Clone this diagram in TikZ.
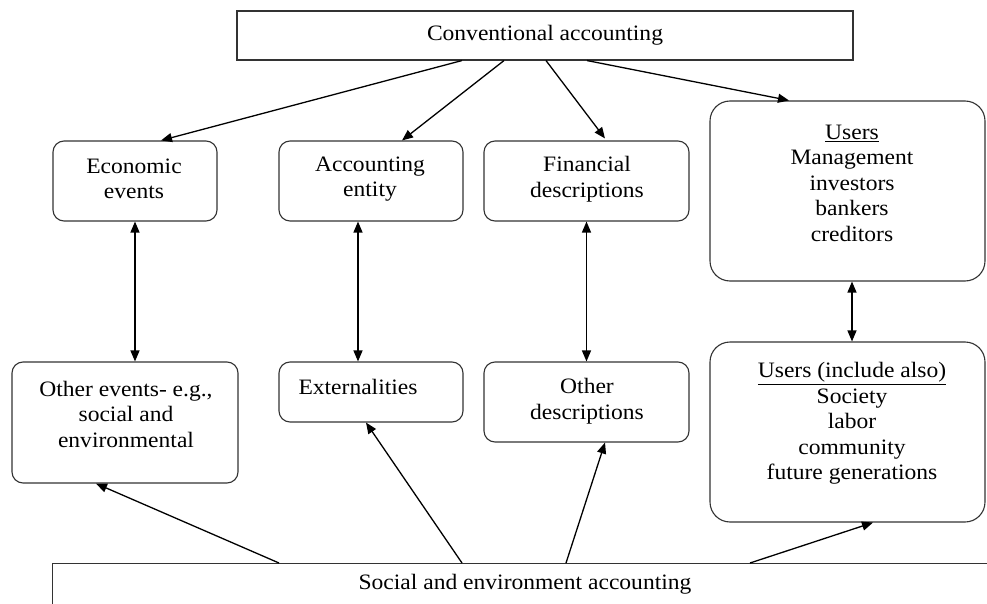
\documentclass[tikz,border=0pt]{standalone}
\usepackage{fontspec}
\setmainfont{Liberation Serif}[FakeStretch=1.07]
\usetikzlibrary{arrows.meta,calc}
\begin{document}
\begin{tikzpicture}[x=1pt,y=-1pt,
  boxline/.style={draw=black!80,line width=1.1pt},
  sqbox/.style={boxline,rectangle,inner sep=0pt},
  rbox/.style={boxline,rectangle,rounded corners=11pt,inner sep=0pt},
  ubox/.style={boxline,rectangle,rounded corners=20pt,inner sep=0pt},
  txt/.style={align=center,inner sep=0pt,font=\fontsize{22}{25.5}\selectfont},
  conn/.style={line width=1.3pt,-{Triangle[length=11pt,width=9pt]}},
  dconn/.style={line width=1.3pt,{Triangle[length=11pt,width=9pt]}-{Triangle[length=11pt,width=9pt]}}]
\useasboundingbox (0,0) rectangle (987,604);
\clip (0,0) rectangle (987,604);
\fill[white] (0,0) rectangle (987,604);
% boxes
\node[sqbox,minimum width=616pt,minimum height=49pt,txt] (top) at (545,35.5) {Conventional accounting};
\node[rbox,minimum width=164pt,minimum height=80pt] (eco) at (135,181) {};
\node[rbox,minimum width=184pt,minimum height=80pt] (ent) at (371,181) {};
\node[rbox,minimum width=205pt,minimum height=80pt] (fin) at (586.5,181) {};
\node[ubox,minimum width=275pt,minimum height=180pt] (users) at (847.5,191) {};
\node[rbox,minimum width=226pt,minimum height=121pt] (oth) at (125,422.5) {};
\node[rbox,minimum width=184pt,minimum height=60pt] (ext) at (371,392) {};
\node[rbox,minimum width=205pt,minimum height=80pt] (odesc) at (586.5,402) {};
\node[ubox,minimum width=275pt,minimum height=180pt] (users2) at (847.5,432) {};
\node[sqbox,anchor=north west,minimum width=960pt,minimum height=80pt] (soc) at (52,563) {};
% texts
\node[txt] (ecot) at (134,179) {Economic\\events};
\node[txt] (entt) at (370,179) {Accounting\\entity};
\node[txt] (fint) at (587,179) {Financial\\descriptions};
\node[txt] (userst) at (852,183) {\underline{Users}\\Management\\investors\\bankers\\creditors};
\node[txt] (otht) at (126,414) {Other events- e.g.,\\social and\\environmental};
\node[txt] (extt) at (358,387) {Externalities};
\node[txt] (odesct) at (587,401) {Other\\descriptions};
\node[txt] (users2t) at (852,423.5) {\underline{Users (include also)}\\Society\\labor\\community\\future generations};
\node[txt] (soct) at (525,584) {Social and environment accounting};
% connectors from top
\draw[conn] ($(top.south)+(-83,0)$) -- ($(eco.north)+(26,0)$);
\draw[conn] ($(top.south)+(-41,0)$) -- ($(ent.north)+(31,0)$);
\draw[conn] ($(top.south)+(1,0)$) -- ($(fin.north)+(18.5,-2)$);
\draw[conn] ($(top.south)+(42,0)$) -- ($(users.north)+(-58.5,0)$);
% vertical double arrows
\draw[dconn] (eco.south) -- (eco.south |- oth.north);
\draw[dconn] ($(ent.south)+(-13,0)$) -- ($(ext.north)+(-13,0)$);
\draw[dconn] (fin.south) -- (odesc.north);
\draw[dconn] ($(users.south)+(4.5,0)$) -- ($(users2.north)+(4.5,0)$);
% from bottom
\draw[conn] ($(soc.north west)+(227,0)$) -- ($(oth.south)+(-29,0)$);
\draw[conn] ($(soc.north west)+(410,0)$) -- ($(ext.south)+(-5,0)$);
\draw[conn] ($(soc.north west)+(514,0)$) -- ($(odesc.south)+(18.5,0)$);
\draw[conn] ($(soc.north west)+(698,0)$) -- ($(users2.south)+(25.5,0)$);
\end{tikzpicture}
\end{document}
